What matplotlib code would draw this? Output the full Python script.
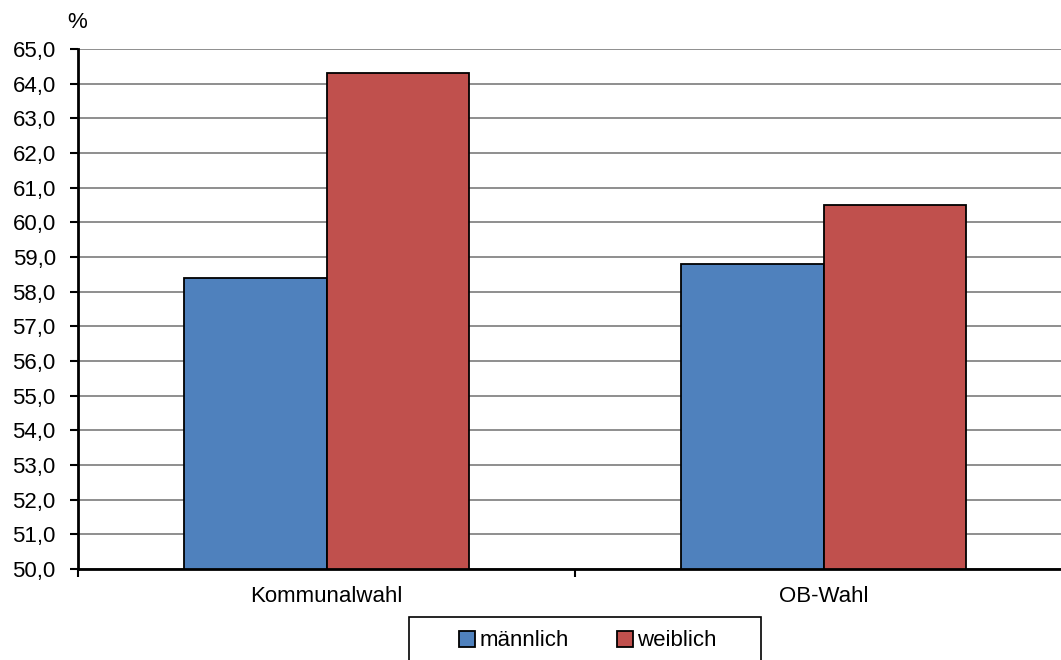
import matplotlib.pyplot as plt
from matplotlib.patches import Rectangle
from matplotlib.ticker import FixedLocator, FuncFormatter
import numpy as np

plt.rcParams['font.family'] = ['Liberation Sans', 'DejaVu Sans']

categories = ['Kommunalwahl', 'OB-Wahl']
series_names = ['männlich', 'weiblich']
maennlich = [58.4, 58.8]
weiblich = [64.3, 60.5]
y_ticks = np.arange(50, 66, 1)

colors = ['#4F81BD', '#C0504D']
FS = 16


def main():
    W, H = 1061, 660
    fig = plt.figure(figsize=(W / 100, H / 100), dpi=100)
    ax = fig.add_axes([78 / W, 1 - 569 / H, 994 / W, 520 / H])

    x = np.arange(len(categories))
    bw = 0.286
    for i, (vals, name) in enumerate(zip([maennlich, weiblich], series_names)):
        ax.bar(x + (i - 0.5) * bw, vals, width=bw, color=colors[i],
               edgecolor='black', linewidth=1.3, label=name, zorder=3)

    ax.set_ylim(50, 65)
    ax.set_xlim(-0.5, len(categories) - 0.5)
    ax.set_yticks(y_ticks)
    ax.yaxis.set_major_formatter(FuncFormatter(lambda v, p: f'{v:.1f}'.replace('.', ',')))
    ax.grid(axis='y', color='#868686', linewidth=1.3, zorder=0)

    # ticks between categories, labels at the centers
    ax.xaxis.set_major_locator(FixedLocator(np.arange(len(categories) + 1) - 0.5))
    ax.xaxis.set_major_formatter(FuncFormatter(lambda v, p: ''))
    ax.xaxis.set_minor_locator(FixedLocator(x))
    ax.set_xticklabels(categories, minor=True)
    ax.tick_params(axis='x', which='major', direction='out', length=6, width=1.5)
    ax.tick_params(axis='x', which='minor', length=0, pad=12, labelsize=FS)
    ax.tick_params(axis='y', direction='out', length=6, width=1.5, labelsize=FS, pad=10)

    for s in ['top', 'right']:
        ax.spines[s].set_visible(False)
    for s in ['left', 'bottom']:
        ax.spines[s].set_linewidth(2)
        ax.spines[s].set_zorder(4)

    fig.text(77 / W, 1 - 23 / H, '%', fontsize=FS, ha='center', va='center')

    # legend box runs off the bottom edge, so draw the frame by hand
    fig.patches.append(Rectangle((409 / W, -0.05), 352 / W, 0.05 + 1 - 617 / H,
                                 transform=fig.transFigure, fill=False,
                                 edgecolor='black', linewidth=1.2))
    leg = fig.legend(loc='center', bbox_to_anchor=(588 / W, 1 - 641 / H),
                     ncol=2, fontsize=FS, frameon=False,
                     handlelength=0.7, handleheight=0.7,
                     handletextpad=0.2, columnspacing=2.2, borderpad=0,
                     borderaxespad=0)
    for p in leg.get_patches():
        p.set_linewidth(1.3)

    fig.savefig('out.png', dpi=100)


if __name__ == '__main__':
    main()
